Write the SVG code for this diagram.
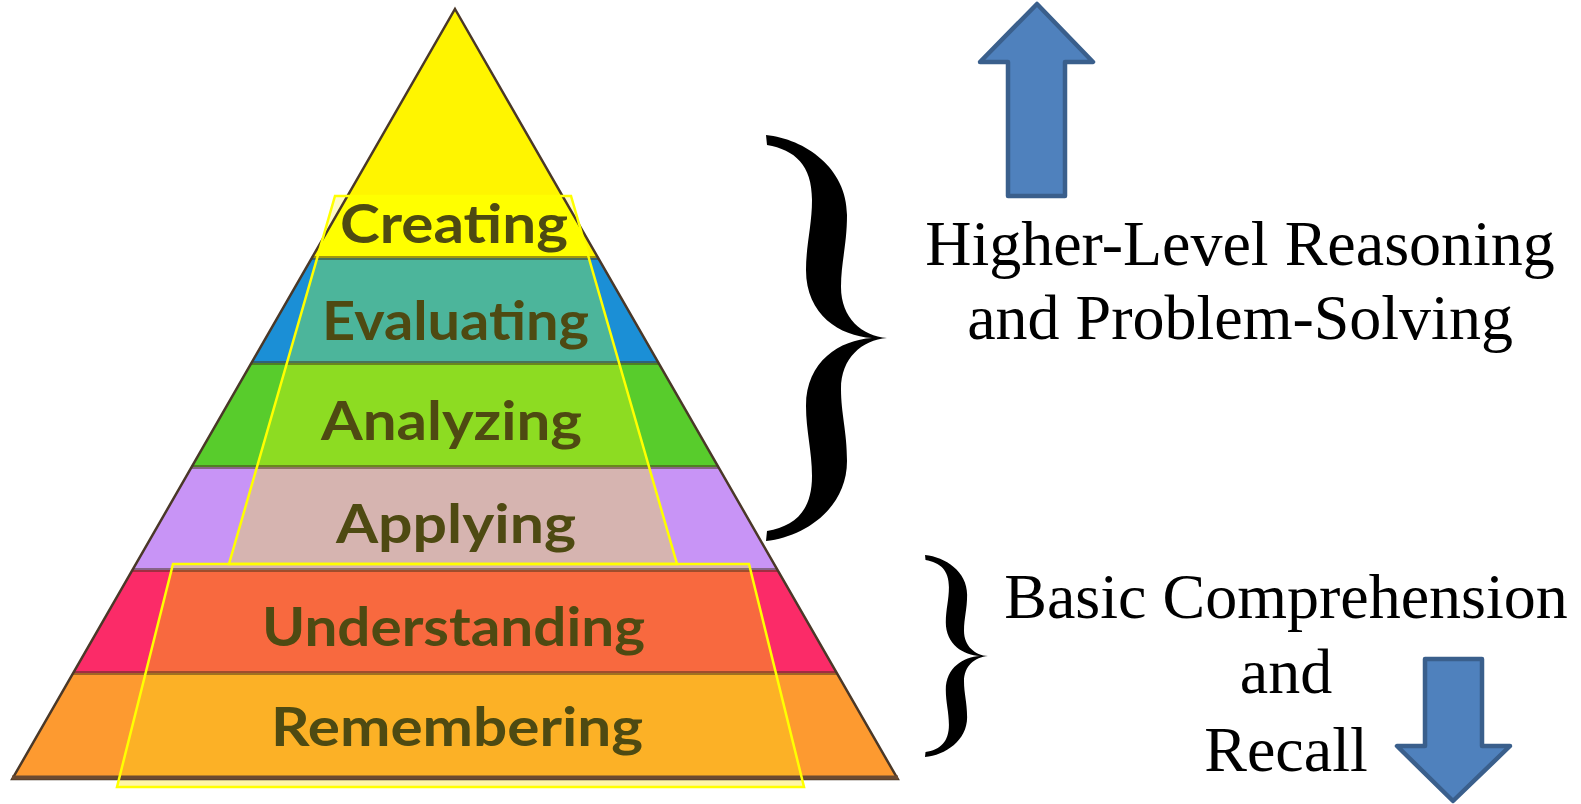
<svg xmlns="http://www.w3.org/2000/svg" width="1581" height="804" viewBox="0 0 1581 804">
  <style>
    .lbl { font-family: "Lato", "DejaVu Sans", sans-serif; font-weight: bold; font-size: 54px; fill: #4e4a12; }
    .cap { font-family: "Liberation Serif", "Times New Roman", serif; font-size: 64px; fill: #000; text-anchor: middle; }
    .sep { stroke: #46321a; stroke-opacity: 0.5; stroke-width: 4; fill: none; }
    .trap { fill: none; stroke: #ffff00; stroke-width: 2.5; stroke-linejoin: miter; }
    .arrow { fill: #4f81bd; stroke: #3a5f8c; stroke-width: 4.5; stroke-linejoin: round; }
  </style>
  <defs>
    <clipPath id="trapClip">
      <polygon points="335,196 571,196 677,564 229,564"/>
      <polygon points="173,564 749,564 804,787 117,787"/>
    </clipPath>
    <path id="brace" d="M 766 135 C 805 139 847 168 847 215 C 847 245 841 262 841 287 C 841 318 862 336 887 338 C 862 340 841 358 841 389 C 841 414 847 431 847 461 C 847 508 805 537 766 541 L 767 531 C 795 526 812 511 812 476 C 812 451 806 431 806 406 C 806 361 840 340 872 338 C 840 336 806 315 806 270 C 806 245 812 225 812 200 C 812 165 795 150 767 145 Z"/>
  </defs>
  <rect width="1581" height="804" fill="#ffffff"/>

  <g id="pyramid">
    <polygon points="335,196 571,196 677,564 229,564" fill="#fffbc8"/>
    <polygon points="173,564 749,564 804,787 117,787" fill="#fff6a8"/>
    <g id="bands-outer">
      <polygon points="455,9 598.2,258 311.8,258" fill="#fff500"/>
      <polygon points="311.8,258 598.2,258 658.6,363 251.4,363" fill="#1b8fd6"/>
      <polygon points="251.4,363 658.6,363 718.4,467 191.6,467" fill="#58cc2c"/>
      <polygon points="191.6,467 718.4,467 777.6,570 132.4,570" fill="#c894f6"/>
      <polygon points="132.4,570 777.6,570 836.8,673 73.2,673" fill="#fb2b68"/>
      <polygon points="73.2,673 836.8,673 897.75,779 12.25,779" fill="#fd9a30"/>
    </g>
    <g id="bands-inner" clip-path="url(#trapClip)">
      <polygon points="455,9 598.2,258 311.8,258" fill="#ffff00"/>
      <polygon points="311.8,258 598.2,258 658.6,363 251.4,363" fill="#4cb59b"/>
      <polygon points="251.4,363 658.6,363 718.4,467 191.6,467" fill="#8ddc22"/>
      <polygon points="191.6,467 718.4,467 777.6,570 132.4,570" fill="#d6b4b0"/>
      <polygon points="132.4,570 777.6,570 836.8,673 73.2,673" fill="#f8693f"/>
      <polygon points="73.2,673 836.8,673 897.75,779 12.25,779" fill="#fcb126"/>
    </g>
    <g id="separators">
      <line class="sep" x1="311.8" y1="258" x2="598.2" y2="258"/>
      <line class="sep" x1="251.4" y1="363" x2="658.6" y2="363"/>
      <line class="sep" x1="191.6" y1="467" x2="718.4" y2="467"/>
      <line class="sep" x1="132.4" y1="570" x2="777.6" y2="570"/>
      <line class="sep" x1="73.2" y1="673" x2="836.8" y2="673"/>
    </g>
    <polygon points="455,9 897.75,779 12.25,779" fill="none" stroke="#4a3828" stroke-width="2.5" stroke-linejoin="miter"/>
    <line x1="12" y1="777.5" x2="898" y2="777.5" stroke="#6b4a30" stroke-width="4"/>
    <polygon class="trap" points="335,196 571,196 677,564 229,564"/>
    <polygon class="trap" points="173,564 749,564 804,787 117,787"/>
  </g>

  <g id="node-creating"><text class="lbl" x="340" y="243" textLength="228" lengthAdjust="spacingAndGlyphs">Creating</text></g>
  <g id="node-evaluating"><text class="lbl" x="322" y="340" textLength="267" lengthAdjust="spacingAndGlyphs">Evaluating</text></g>
  <g id="node-analyzing"><text class="lbl" x="321" y="440" textLength="261" lengthAdjust="spacingAndGlyphs">Analyzing</text></g>
  <g id="node-applying"><text class="lbl" x="336" y="543" textLength="240" lengthAdjust="spacingAndGlyphs">Applying</text></g>
  <g id="node-understanding"><text class="lbl" x="262" y="646" textLength="383" lengthAdjust="spacingAndGlyphs">Understanding</text></g>
  <g id="node-remembering"><text class="lbl" x="271" y="746" textLength="372" lengthAdjust="spacingAndGlyphs">Remembering</text></g>

  <g id="connectors">
    <use href="#brace" fill="#000"/>
    <use href="#brace" fill="#000" transform="translate(925,656) scale(0.52,0.4975) translate(-766,-338)"/>
  </g>

  <g id="higher-level">
    <text class="cap" x="1240" y="265">Higher-Level Reasoning</text>
    <text class="cap" x="1240" y="339">and Problem-Solving</text>
  </g>
  <g id="basic">
    <text class="cap" x="1286" y="618">Basic Comprehension</text>
    <text class="cap" x="1286" y="693">and</text>
    <text class="cap" x="1286" y="771">Recall</text>
  </g>

  <g id="arrow-up">
    <polygon class="arrow" points="1037,4 1093,62 1065,62 1065,196 1008,196 1008,62 980,62"/>
  </g>
  <g id="arrow-down">
    <polygon class="arrow" points="1425,659 1482,659 1482,746 1510,746 1453,801 1397,746 1425,746"/>
  </g>
</svg>
